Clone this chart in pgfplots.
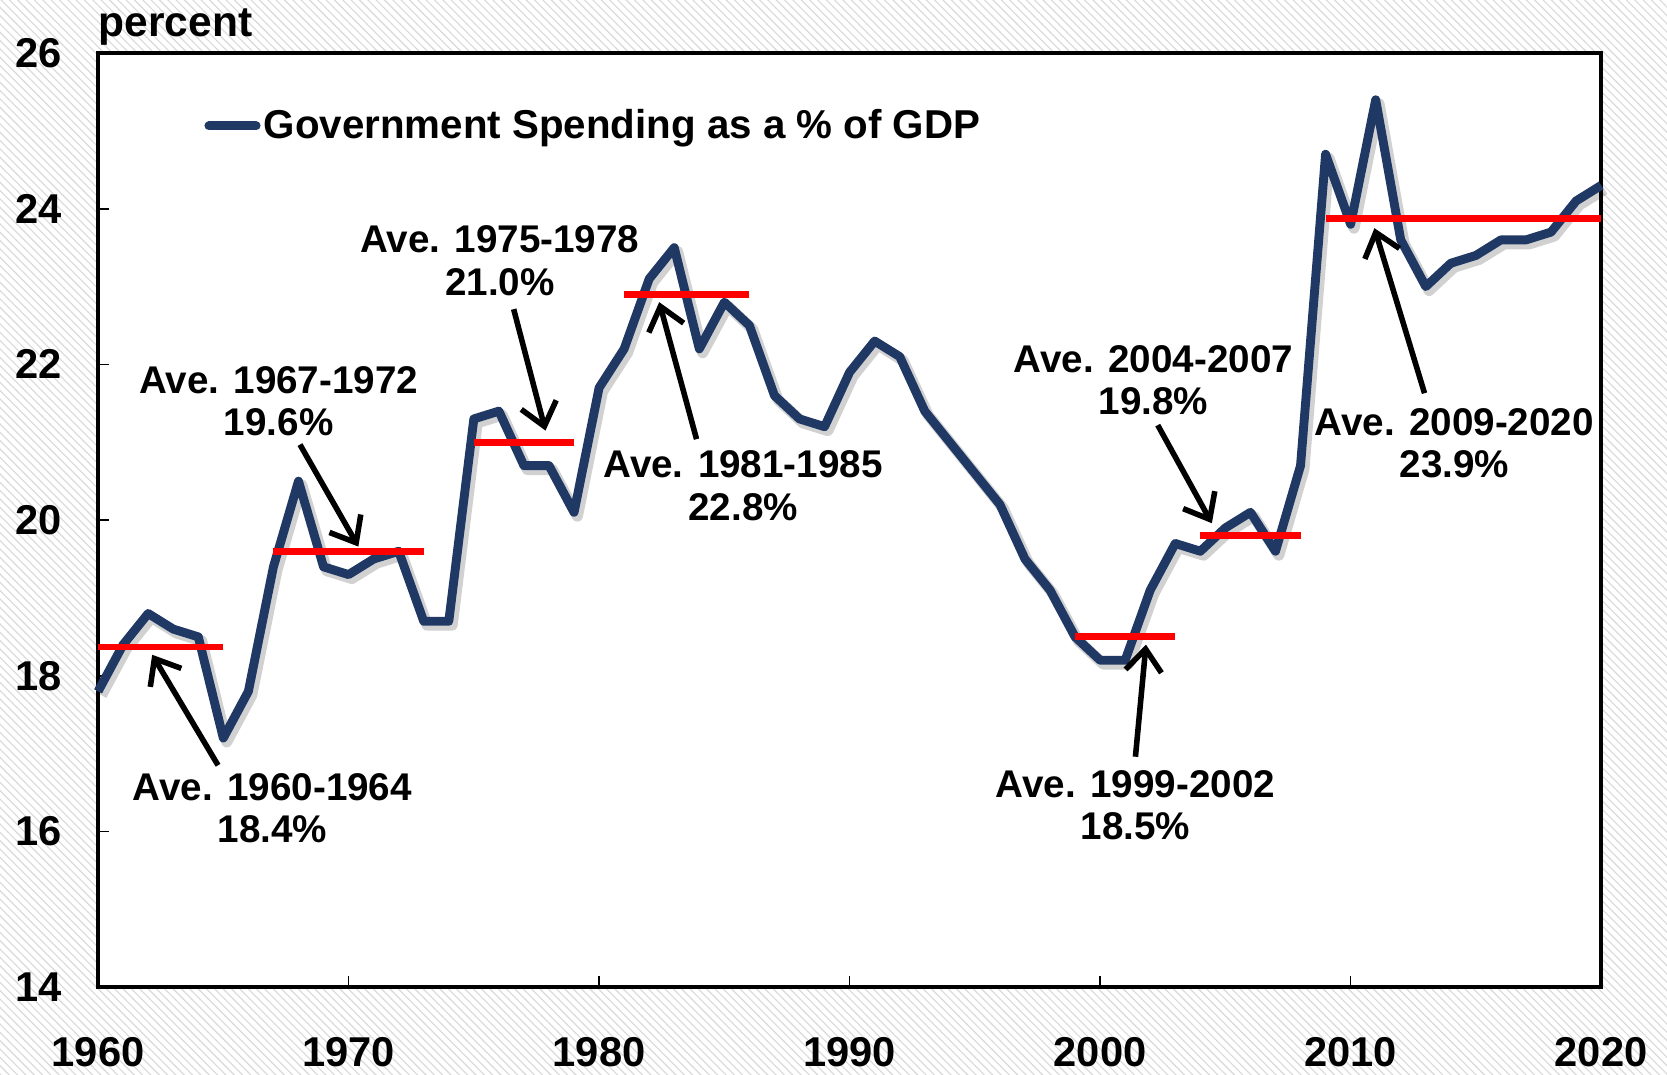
\documentclass[border=0pt]{standalone}
\usepackage{fontspec}
\setmainfont{Liberation Sans}
\usepackage{pgfplots}
\pgfplotsset{compat=1.18}
\usetikzlibrary{arrows.meta,patterns}
\definecolor{navy}{HTML}{1F3864}
\definecolor{hatch}{HTML}{DADADA}
\newcommand{\lblfont}{\fontsize{14.5}{15.5}\selectfont\bfseries}
\newcommand{\notefont}{\fontsize{13.9}{15.3}\selectfont\bfseries}

\begin{document}
\begin{tikzpicture}
\fill[white] (0,0) rectangle (600pt,386.6pt);
\path[use as bounding box, pattern=north west lines, pattern color=hatch] (0,0) rectangle (600pt,386.6pt);
\begin{axis}[
    at={(35.3pt,31.3pt)}, anchor=south west,
    scale only axis, width=541pt, height=336.2pt,
    xmin=1960, xmax=2020, ymin=14, ymax=26,
    xtick={1960,1970,...,2020},
    ytick={14,16,...,26},
    tick pos=left, tick align=inside,
    major tick length=4pt,
    tick style={black, line width=0.6pt},
    axis line style={line width=1.6pt},
    axis background/.style={fill=white},
    clip=false,
    /pgf/number format/assume math mode=true,
    ticklabel style={font=\fontsize{15}{16}\selectfont\bfseries},
    x tick label style={/pgf/number format/1000 sep={}, yshift=-14.5pt},
    y tick label style={xshift=-9.4pt},
    legend style={draw=none, fill=none, at={(rel axis cs:0.0704,0.922)}, anchor=west,
        inner sep=0pt, font=\lblfont, nodes={inner sep=1.2pt}},
    legend image code/.code={\draw[#1, line width=3.2pt, line cap=round] (0pt,0pt) -- (17pt,0pt);},
    legend cell align=left,
]
% shadow
\addplot[black, opacity=0.18, line width=4pt, line join=round, forget plot,
    transform canvas={xshift=1.2pt, yshift=-1.4pt}] table {
1960 17.8
1961 18.4
1962 18.8
1963 18.6
1964 18.5
1965 17.2
1966 17.8
1967 19.4
1968 20.5
1969 19.4
1970 19.3
1971 19.5
1972 19.6
1973 18.7
1974 18.7
1975 21.3
1976 21.4
1977 20.7
1978 20.7
1979 20.1
1980 21.7
1981 22.2
1982 23.1
1983 23.5
1984 22.2
1985 22.8
1986 22.5
1987 21.6
1988 21.3
1989 21.2
1990 21.9
1991 22.3
1992 22.1
1993 21.4
1994 21.0
1995 20.6
1996 20.2
1997 19.5
1998 19.1
1999 18.5
2000 18.2
2001 18.2
2002 19.1
2003 19.7
2004 19.6
2005 19.9
2006 20.1
2007 19.6
2008 20.7
2009 24.7
2010 23.8
2011 25.4
2012 23.6
2013 23.0
2014 23.3
2015 23.4
2016 23.6
2017 23.6
2018 23.7
2019 24.1
2020 24.3
};
% Government spending
\addplot[navy, line width=3.2pt, line join=round] table {
1960 17.8
1961 18.4
1962 18.8
1963 18.6
1964 18.5
1965 17.2
1966 17.8
1967 19.4
1968 20.5
1969 19.4
1970 19.3
1971 19.5
1972 19.6
1973 18.7
1974 18.7
1975 21.3
1976 21.4
1977 20.7
1978 20.7
1979 20.1
1980 21.7
1981 22.2
1982 23.1
1983 23.5
1984 22.2
1985 22.8
1986 22.5
1987 21.6
1988 21.3
1989 21.2
1990 21.9
1991 22.3
1992 22.1
1993 21.4
1994 21.0
1995 20.6
1996 20.2
1997 19.5
1998 19.1
1999 18.5
2000 18.2
2001 18.2
2002 19.1
2003 19.7
2004 19.6
2005 19.9
2006 20.1
2007 19.6
2008 20.7
2009 24.7
2010 23.8
2011 25.4
2012 23.6
2013 23.0
2014 23.3
2015 23.4
2016 23.6
2017 23.6
2018 23.7
2019 24.1
2020 24.3
};
\addlegendentry{Government Spending as a \% of GDP}

% period averages
\addplot[red, line width=2.5pt, forget plot] coordinates {(1960,18.37) (1965,18.37)};
\addplot[red, line width=2.5pt, forget plot] coordinates {(1967,19.6) (1973,19.6)};
\addplot[red, line width=2.5pt, forget plot] coordinates {(1975,21.0) (1979,21.0)};
\addplot[red, line width=2.5pt, forget plot] coordinates {(1981,22.9) (1986,22.9)};
\addplot[red, line width=2.5pt, forget plot] coordinates {(1999,18.5) (2003,18.5)};
\addplot[red, line width=2.5pt, forget plot] coordinates {(2004,19.8) (2008,19.8)};
\addplot[red, line width=2.5pt, forget plot] coordinates {(2009,23.88) (2020,23.88)};

% annotations
\tikzset{note/.style={font=\notefont, align=center, inner sep=0pt},
         pointer/.style={black, line width=2pt, -{Straight Barb[length=8pt,width=13pt]}}}
\draw[pointer] (axis cs:1964.79,16.85) -- (axis cs:1962.16,18.27);
\node[note] at (axis cs:1966.96,16.30) {Ave. 1960-1964\\18.4\%};
\draw[pointer] (axis cs:1968.06,20.97) -- (axis cs:1970.39,19.66);
\node[note] at (axis cs:1967.21,21.53) {Ave. 1967-1972\\19.6\%};
\draw[pointer] (axis cs:1976.59,22.71) -- (axis cs:1977.86,21.15);
\node[note] at (axis cs:1976.04,23.33) {Ave. 1975-1978\\21.0\%};
\draw[pointer] (axis cs:1983.89,21.04) -- (axis cs:1982.40,22.80);
\node[note] at (axis cs:1985.75,20.44) {Ave. 1981-1985\\22.8\%};
\draw[pointer] (axis cs:2001.41,16.96) -- (axis cs:2001.83,18.40);
\node[note] at (axis cs:2001.41,16.34) {Ave. 1999-2002\\18.5\%};
\draw[pointer] (axis cs:2002.30,21.22) -- (axis cs:2004.46,19.96);
\node[note] at (axis cs:2002.13,21.80) {Ave. 2004-2007\\19.8\%};
\draw[pointer] (axis cs:2012.95,21.63) -- (axis cs:2010.95,23.75);
\node[note] at (axis cs:2014.14,20.99) {Ave. 2009-2020\\23.9\%};

\node[font=\fontsize{15.3}{16}\selectfont\bfseries, anchor=base west, inner sep=0pt]
    at ([yshift=5.8pt]rel axis cs:0,1) {percent};
\end{axis}
\end{tikzpicture}
\end{document}
